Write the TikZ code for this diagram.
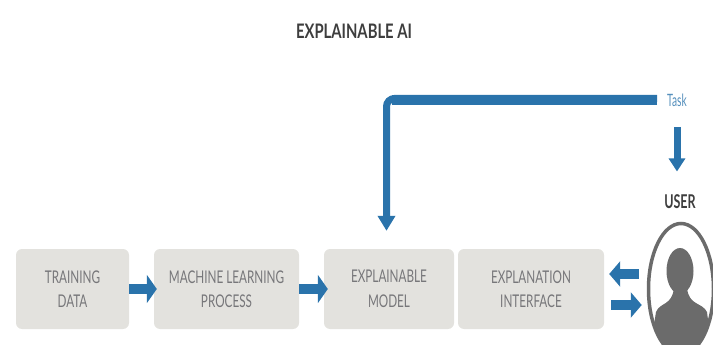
\documentclass[tikz,border=0pt]{standalone}
\usepackage{fontspec}
\setmainfont{Lato}
\usetikzlibrary{arrows.meta,shapes.geometric}
\definecolor{boxgrey}{HTML}{E3E2DE}
\definecolor{flowblue}{HTML}{2A73AB}
\definecolor{ink}{HTML}{77777A}
\definecolor{dark}{HTML}{3E3E3E}
\definecolor{person}{HTML}{6B6B6B}
\newcommand{\sq}[1]{\scalebox{.67}[1]{#1}}
\tikzset{
  stage/.style={fill=boxgrey,draw=none,rounded corners=6pt,minimum height=80pt,align=center,text=ink,font=\fontsize{17.5}{24.5}\selectfont,inner sep=0pt},
  flow/.style={draw=flowblue,line width=10pt,-{Triangle[length=10pt,width=28pt]}},
  thin flow/.style={draw=flowblue,line width=10pt,-{Triangle[length=11pt,width=25pt]}}
}
\begin{document}
\begin{tikzpicture}[x=1pt,y=-1pt]
\useasboundingbox (0,0) rectangle (713,345);
\clip (0,0) rectangle (713,345);
\node[font=\fontsize{20}{24}\selectfont\bfseries,text=dark,xscale=.74] (title) at (354,31) {EXPLAINABLE AI};
\node[stage,minimum width=113pt] (train) at (72.5,289) {\sq{TRAINING}\\\sq{DATA}};
\node[stage,minimum width=145pt] (ml) at (226.5,289) {\sq{MACHINE LEARNING}\\\sq{PROCESS}};
\node[stage,minimum width=130pt] (em) at (389,289) {\sq{EXPLAINABLE}\\\sq{MODEL}};
\node[stage,minimum width=146pt] (ei) at (531,289) {\sq{EXPLANATION}\\\sq{INTERFACE}};
\draw[flow,shorten >=-3pt] (train) -- (ml);
\draw[flow,shorten >=-4pt] (ml) -- (em);
\node[font=\fontsize{17}{19}\selectfont,text=flowblue!80,xscale=.6] (task) at (677,100) {Task};
\coordinate (turn) at (386.5,100);
\draw[draw=flowblue,line width=7pt,rounded corners=8pt,shorten <=8pt,shorten >=18pt,-{Triangle[length=15pt,width=17pt]}] ([yshift=1.5pt]task.west) -- ([yshift=1.5pt]turn) -- (turn |- em.north);
\draw[draw=flowblue,line width=10pt,shorten <=8pt,shorten >=5.5pt] (task.west) -- (turn);
\node[font=\fontsize{19}{21}\selectfont\bfseries,text=dark,xscale=.66] (user) at (680,202) {USER};
\draw[draw=flowblue,line width=7pt,shorten <=17pt,shorten >=20pt,-{Triangle[length=13pt,width=16pt]}] (task.south) -- (task.south |- user.north);
\node[ellipse,draw=person,line width=3.5pt,minimum width=65pt,minimum height=131pt,inner sep=0pt] (avatar) at (681,289) {};
\draw[thin flow,shorten >=13pt] ([xshift=-8pt,yshift=15pt]avatar.west) -- ([xshift=-8pt,yshift=15pt]avatar.west -| ei.east);
\draw[thin flow,shorten <=7pt,shorten >=5pt] ([yshift=-16pt]ei.east) -- ([yshift=-16pt]ei.east -| avatar.west);
\begin{scope}
\clip (681,289) ellipse [x radius=32,y radius=65];
\fill[person] (680,271) ellipse [x radius=13.5,y radius=23];
\fill[person] (650,350) -- (656,312) .. controls (660,302) and (672,306) .. (674,288) -- (687,288) .. controls (689,306) and (702,302) .. (707,312) -- (712,350) -- cycle;
\end{scope}
\end{tikzpicture}
\end{document}
